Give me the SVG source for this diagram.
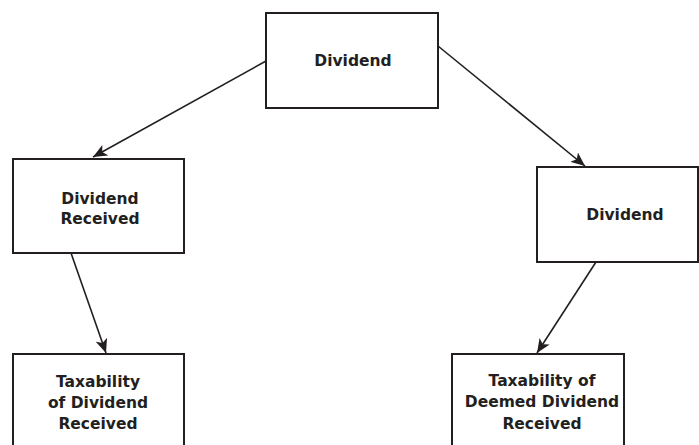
<svg xmlns="http://www.w3.org/2000/svg" width="699" height="445" viewBox="0 0 699 445">
  <style>
    .box { fill: #ffffff; stroke: #231f20; stroke-width: 2; }
    .lbl { font-family: "DejaVu Sans", "Noto Sans", sans-serif; font-weight: bold; font-size: 15.5px; fill: #231f20; text-anchor: middle; }
    .edge { stroke: #231f20; stroke-width: 1.6; fill: none; marker-end: url(#arrow); }
  </style>
  <defs>
    <marker id="arrow" viewBox="0 0 14 12" refX="14" refY="6" markerWidth="14" markerHeight="12" markerUnits="userSpaceOnUse" orient="auto">
      <path d="M0,0 L14,6 L0,12 L3.5,6 Z" fill="#231f20"/>
    </marker>
  </defs>
  <rect width="699" height="445" fill="#ffffff"/>

  <g id="connectors">
    <line class="edge" x1="266" y1="61" x2="93" y2="157"/>
    <line class="edge" x1="438" y1="46" x2="585" y2="166"/>
    <line class="edge" x1="71" y1="253" x2="106" y2="353"/>
    <line class="edge" x1="596" y1="262" x2="537" y2="353"/>
  </g>

  <g id="dividend-top">
    <rect class="box" x="266" y="13" width="172" height="95"/>
    <text class="lbl" x="353" y="66">Dividend</text>
  </g>

  <g id="dividend-received">
    <rect class="box" x="13" y="159" width="171" height="94"/>
    <text class="lbl" x="100" y="204">Dividend</text>
    <text class="lbl" x="100" y="224">Received</text>
  </g>

  <g id="dividend-right">
    <rect class="box" x="537" y="167" width="161" height="95"/>
    <text class="lbl" x="625" y="220">Dividend</text>
  </g>

  <g id="taxability-received">
    <rect class="box" x="13" y="354" width="171" height="100"/>
    <text class="lbl" x="98" y="387">Taxability</text>
    <text class="lbl" x="98" y="408">of Dividend</text>
    <text class="lbl" x="98" y="429">Received</text>
  </g>

  <g id="taxability-deemed">
    <rect class="box" x="452" y="354" width="172" height="100"/>
    <text class="lbl" x="542" y="386">Taxability of</text>
    <text class="lbl" x="542" y="407">Deemed Dividend</text>
    <text class="lbl" x="542" y="429">Received</text>
  </g>
</svg>
